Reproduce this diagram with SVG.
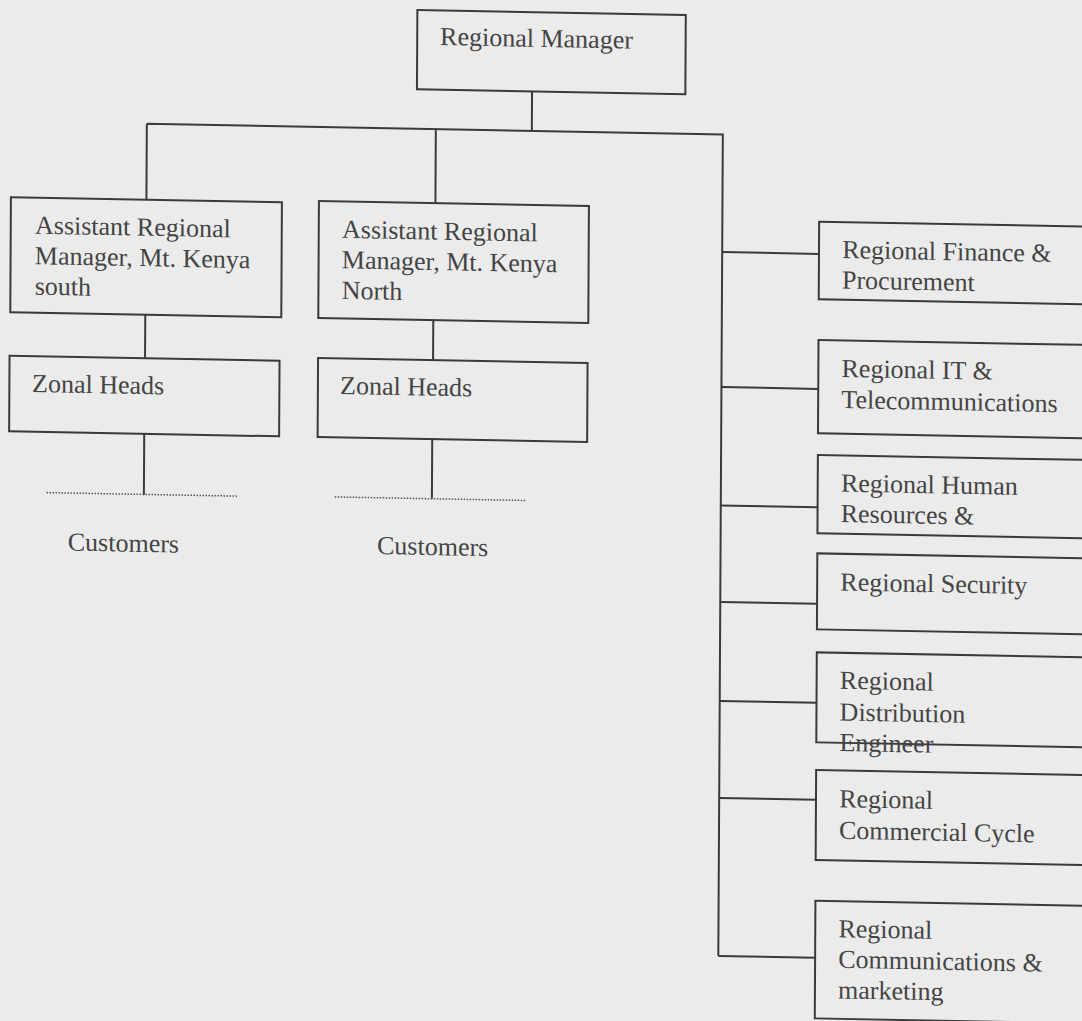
<svg xmlns="http://www.w3.org/2000/svg" width="1082" height="1021" viewBox="0 0 1082 1021">
<style>
.box{fill:none;stroke:#3a3a3a;stroke-width:2}
.ln{fill:none;stroke:#3a3a3a;stroke-width:2}
.dot{fill:none;stroke:#555;stroke-width:1.5;stroke-dasharray:1.5 1.5}
text{font-family:"Liberation Serif","Times New Roman",serif;font-size:26px;fill:#444}
</style>
<rect x="0" y="0" width="1082" height="1021" fill="#ebebeb"/>
<g id="diagram" transform="matrix(1,0.0185,-0.0055,1,0,0)">
<g id="connectors">
<path class="ln" d="M532.5,82 V121 M147.5,121 H723.5 V942.5 M147.5,121 V197 M436.5,121 V195"/>
<path class="ln" d="M147,312 V355.6 M146.6,431 V492 M435,312 V352 M434.6,431 V490.5"/>
<path class="ln" d="M723.5,238.7 H820.3 M723.5,373.7 H820.3 M723.5,492 H820.3 M723.5,588.6 H820.3 M723.5,687.5 H820.3 M723.5,784.5 H820.3 M723.5,942.5 H820.3"/>
<path class="dot" d="M49.2,491.7 H239.7 M337.4,490.7 H528.7"/>
</g>
<g id="regional-manager">
<rect class="box" x="417.4" y="2.3" width="268.4" height="79.3"/>
<text x="440.3" y="36.9">Regional Manager</text>
</g>
<g id="arm-south">
<rect class="box" x="12" y="197" width="271" height="115"/>
<text x="36.3" y="233">Assistant Regional</text>
<text x="36.3" y="263.5">Manager, Mt. Kenya</text>
<text x="36.3" y="294">south</text>
</g>
<g id="zonal-south">
<rect class="box" x="11.5" y="355.6" width="270" height="75.5"/>
<text x="34.2" y="391.4">Zonal Heads</text>
</g>
<g id="customers-south">
<text x="70.8" y="549.2">Customers</text>
</g>
<g id="arm-north">
<rect class="box" x="320" y="195" width="270" height="117"/>
<text x="343.3" y="231.5">Assistant Regional</text>
<text x="343.3" y="262">Manager, Mt. Kenya</text>
<text x="343.3" y="292.5">North</text>
</g>
<g id="zonal-north">
<rect class="box" x="320" y="352" width="269.5" height="79"/>
<text x="342.2" y="387.7">Zonal Heads</text>
</g>
<g id="customers-north">
<text x="380" y="547">Customers</text>
</g>
<g id="finance">
<rect class="box" x="820.3" y="206.5" width="280" height="77.6"/>
<text x="843.5" y="242.5">Regional Finance &amp;</text>
<text x="843.5" y="273">Procurement</text>
</g>
<g id="it">
<rect class="box" x="820.3" y="324.8" width="280" height="93.3"/>
<text x="843.5" y="361.3">Regional IT &amp;</text>
<text x="843.5" y="392.5">Telecommunications</text>
</g>
<g id="hr">
<rect class="box" x="820.3" y="439.8" width="280" height="78.3"/>
<text x="843.5" y="476">Regional Human</text>
<text x="843.5" y="506.5">Resources &amp;</text>
</g>
<g id="security">
<rect class="box" x="820.3" y="538.2" width="280" height="76"/>
<text x="843.5" y="574.9">Regional Security</text>
</g>
<g id="distribution">
<rect class="box" x="820.3" y="637.2" width="280" height="90"/>
<text x="843.5" y="673.2">Regional</text>
<text x="843.5" y="704.9">Distribution</text>
<text x="843.5" y="735.4">Engineer</text>
</g>
<g id="commercial">
<rect class="box" x="820.3" y="754.9" width="280" height="90"/>
<text x="843.5" y="791.6">Regional</text>
<text x="843.5" y="823.2">Commercial Cycle</text>
</g>
<g id="communications">
<rect class="box" x="820.3" y="885.6" width="280" height="117.6"/>
<text x="843.5" y="921.6">Regional</text>
<text x="843.5" y="952.2">Communications &amp;</text>
<text x="843.5" y="982.8">marketing</text>
</g>
</g>
</svg>
